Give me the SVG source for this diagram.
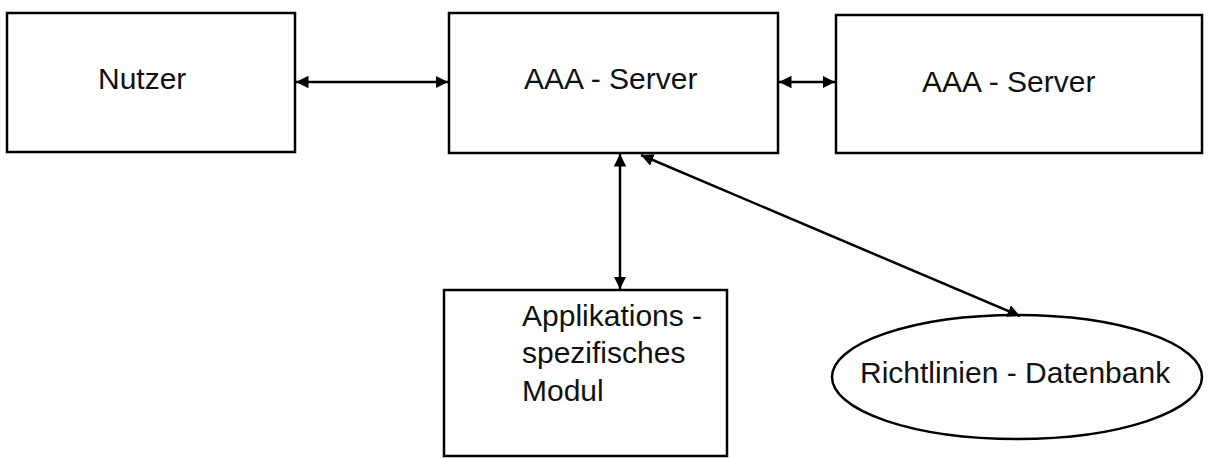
<svg xmlns="http://www.w3.org/2000/svg" width="1219" height="458" viewBox="0 0 1219 458">
<defs>
<style>
.box{fill:#fff;stroke:#000;stroke-width:2.5}
.lbl{font-family:"Liberation Sans",Arial,sans-serif;font-size:30px;fill:#111}
.con{stroke:#000;stroke-width:2.5;fill:none;marker-start:url(#ah);marker-end:url(#ah)}
</style>
<marker id="ah" viewBox="0 0 10 10" refX="10" refY="5" markerWidth="5" markerHeight="5" orient="auto-start-reverse" markerUnits="strokeWidth">
<path d="M0,0 L10,5 L0,10 z" fill="#000"/>
</marker>
</defs>
<rect width="1219" height="458" fill="#fff"/>
<g id="nutzer">
<rect class="box" x="7" y="13" width="288" height="139"/>
<text class="lbl" x="98" y="89">Nutzer</text>
</g>
<g id="aaa-server-1">
<rect class="box" x="449" y="13" width="329" height="140"/>
<text class="lbl" x="524" y="89">AAA - Server</text>
</g>
<g id="aaa-server-2">
<rect class="box" x="836" y="15" width="366" height="138"/>
<text class="lbl" x="922" y="92">AAA - Server</text>
</g>
<g id="modul">
<rect class="box" x="444" y="290" width="283" height="166"/>
<text class="lbl" x="522" y="326">Applikations -</text>
<text class="lbl" x="522" y="363">spezifisches</text>
<text class="lbl" x="522" y="401">Modul</text>
</g>
<g id="datenbank">
<ellipse class="box" cx="1017" cy="377" rx="185" ry="62"/>
<text class="lbl" x="860" y="383">Richtlinien - Datenbank</text>
</g>
<g id="connectors">
<line class="con" x1="296" y1="82" x2="448" y2="82"/>
<line class="con" x1="779" y1="82" x2="835" y2="82"/>
<line class="con" x1="620" y1="154" x2="620" y2="289"/>
<line class="con" x1="641" y1="155" x2="1020" y2="316"/>
</g>
</svg>
